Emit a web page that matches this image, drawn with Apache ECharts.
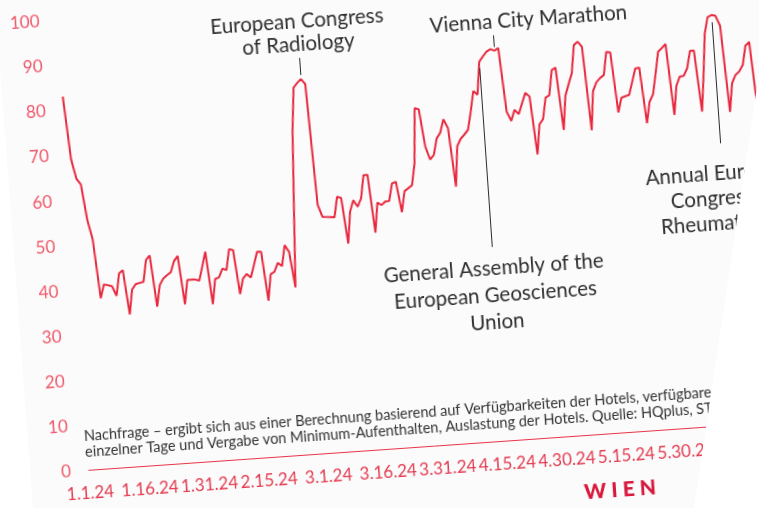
<!DOCTYPE html>
<html>
<head>
<meta charset="utf-8">
<script src="https://cdn.jsdelivr.net/npm/echarts@6/dist/echarts.min.js"></script>
<style>
html,body{margin:0;padding:0;background:#ffffff;width:759px;height:508px;overflow:hidden;}
#page{position:absolute;left:0;top:0;width:759px;height:508px;background:#fbfbfb;
  clip-path:polygon(-5px 0px,770px 0px,694px 508px,33px 508px);overflow:hidden;}
#chart{position:absolute;left:0;top:-40px;width:800px;height:600px;
  transform:rotate(-4deg);transform-origin:379.5px 294px;}
</style>
</head>
<body>
<div id="page"><div id="chart"></div></div>
<script>
// ---- data ----
const startYear = 2024, startMonth = 1, startDay = 1;   // first category: 1.1.24
const demand = [
  83.1,69.0,64.7,63.4,55.4,51.1,37.9, 40.9,40.7,40.4,38.2,43.1,43.8,33.9,
  39.4,40.5,40.7,40.9,45.7,46.6,35.2, 39.9,41.3,42.0,42.6,45.0,46.1,35.3,
  40.6,40.6,40.6,40.3,43.4,46.6,34.9, 40.4,40.7,42.6,42.2,46.8,46.5,36.7,
  40.1,41.0,40.2,43.0,45.8,45.7,34.8, 40.6,41.1,43.0,42.2,46.8,45.3,37.3,
  55.0,72.0,81.5,82.5,83.3,82.1,55.2, 52.5,52.4,52.3,52.2,56.7,56.4,46.2,
  53.2,55.7,54.2,56.0,61.1,61.1,48.2, 54.8,54.2,54.9,55.0,58.8,59.1,52.3,
  56.9,57.5,58.1,62.9,75.1,74.8,66.4, 63.5,64.5,68.1,69.3,72.2,70.2,57.1,
  66.0,67.6,68.5,69.5,73.5,78.0,77.1, 84.4,85.5,86.5,87.0,86.6,87.1,72.9,
  70.8,73.2,72.2,74.5,76.8,75.9,63.0, 69.6,70.7,75.4,75.9,81.4,81.9,68.0,
  75.5,78.0,80.4,86.6,87.3,86.1,67.5, 76.1,78.0,78.9,79.5,84.6,84.4,71.0,
  74.2,74.5,74.7,77.6,80.5,80.6,68.2, 72.9,74.5,79.0,83.8,84.6,85.4,69.6,
  76.0,78.0,78.1,79.7,83.5,83.5,69.9, 78.0,87.0,90.7,91.1,90.9,88.6,69.4,
  75.7,77.5,78.2,79.6,83.8,84.6,69.0
];
const yMin = 0, yMax = 100, yStep = 10;
const labelEveryDays = 15;

// annotations: day index of the leader line, leader line from/to values, text
const annotationDays  = [60, 109, 105, 164];
const annotationFrom  = [84.2, 87.4, 83.0, 89.5];
const annotationTo    = [88.0, 90.0, 43.2, 62.6];
const annotationTexts = [
  'European Congress\nof Radiology',
  'Vienna City Marathon',
  'General Assembly of the\nEuropean Geosciences\nUnion',
  'Annual European\nCongress of\nRheumatology'
];
const footnoteLines = [
  'Nachfrage – ergibt sich aus einer Berechnung basierend auf Verfügbarkeiten der Hotels, verfügbaren',
  'einzelner Tage und Vergabe von Minimum-Aufenthalten, Auslastung der Hotels. Quelle: HQplus, STR'
];
const brandText = 'W I E N';

// ---- categories (dates M.D.YY) ----
const categories = demand.map(function (_, i) {
  const d = new Date(startYear, startMonth - 1, startDay + i);
  return (d.getMonth() + 1) + '.' + d.getDate() + '.' + String(d.getFullYear()).slice(2);
});

// ---- label styles per annotation (style only) ----
const annStyles = [
  {distance: 2,  lineHeight: 23, padding: [0, 0, 0, 0]},
  {distance: 1,  lineHeight: 24, padding: [0, 0, 0, 72]},
  {distance: 8,  lineHeight: 27, padding: [0, 0, 0, 0]},
  {distance: 18, lineHeight: 25, padding: [0, 0, 0, 0]}
];

const markData = annotationDays.map(function (day, i) {
  const st = annStyles[i];
  return [
    {coord: [categories[day], annotationFrom[i]],
     label: {show: true, position: 'end', formatter: annotationTexts[i],
             distance: st.distance, lineHeight: st.lineHeight, padding: st.padding,
             color: '#2f2f2f', fontSize: 20.5, fontFamily: 'Lato'}},
    {coord: [categories[day], annotationTo[i]]}
  ];
});

const FONT = 'Lato';
const chart = echarts.init(document.getElementById('chart'), null, {renderer: 'canvas'});
chart.setOption({
  animation: false,
  backgroundColor: 'transparent',
  grid: {left: 74.5, top: 38.7, right: 33, bottom: 110.3, containLabel: false},
  xAxis: {
    type: 'category',
    data: categories,
    boundaryGap: false,
    axisLine: {show: true, lineStyle: {color: '#e8344a', width: 1}},
    axisTick: {show: false},
    splitLine: {show: false},
    axisLabel: {interval: labelEveryDays - 1, color: '#e33b50', fontSize: 17,
                fontFamily: FONT, margin: 14}
  },
  yAxis: {
    type: 'value',
    min: yMin, max: yMax, interval: yStep,
    axisLine: {show: false},
    axisTick: {show: false},
    splitLine: {show: false},
    axisLabel: {color: '#ef5668', fontSize: 17, fontFamily: FONT, margin: 18}
  },
  series: [{
    type: 'line',
    data: demand,
    showSymbol: false,
    symbol: 'none',
    lineStyle: {color: '#e8283e', width: 2},
    markLine: {
      silent: true,
      symbol: ['none', 'none'],
      animation: false,
      lineStyle: {color: '#2b2b2b', width: 1, type: 'solid'},
      emphasis: {disabled: true},
      data: markData
    }
  }],
  graphic: [
    {type: 'text', left: 72, top: 447,
     style: {text: footnoteLines.join('\n'), fill: '#333333', fontSize: 14.5,
             fontFamily: FONT, lineHeight: 16}},
    {type: 'text', x: 603, y: 546,
     style: {text: brandText, fill: '#d8183c', fontSize: 21, fontWeight: 900,
             fontFamily: FONT, textAlign: 'center', textVerticalAlign: 'middle'}}
  ]
});
</script>
</body>
</html>
